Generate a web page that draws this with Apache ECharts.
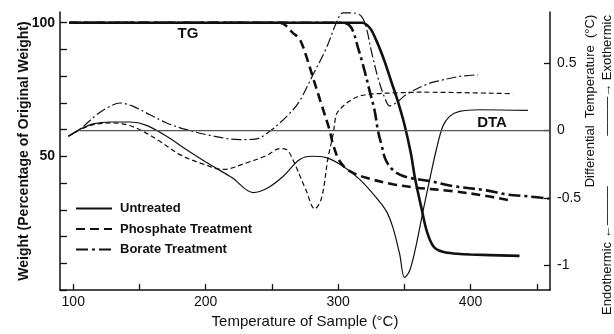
<!DOCTYPE html>
<html>
<head>
<meta charset="utf-8">
<script src="https://cdn.jsdelivr.net/npm/echarts@6/dist/echarts.min.js"></script>
<style>
  html, body { margin: 0; padding: 0; background: #fff; }
  #chart { width: 614px; height: 334px; }
</style>
</head>
<body>
<div id="chart"></div>
<script>
// [temperature °C, weight %]
const untreatedTG = [[97,100],[318,100],[324,98],[329,93.2],[335,85.7],[340,78.2],[345,70.8],[350,62.1],[355,51],[358,42],[363,30.5],[367,22],[372,16.3],[379,14.3],[390,13.6],[400,13.3],[437,12.8]];
const phosphateTG = [[97,100],[256,100],[266,96.1],[271,93.8],[276,87.4],[281,79.5],[287.4,69.5],[293.7,59.6],[296.2,54.5],[301.2,48.2],[308.8,44.5],[321.3,42],[341.4,39.6],[359.1,38.3],[386.7,37],[411.9,35.2],[428.2,33.7]];
const borateTG = [[97,100],[303.7,100],[310,98.1],[315,90.7],[320,82],[323.8,74.5],[327.6,67.1],[330.1,59.6],[332.7,54.5],[336.4,48.2],[344,43.9],[354,42],[369.1,40.8],[386.7,38.9],[411.9,37.3],[426.9,35.8],[444.5,35],[459,34.2]];

// [temperature °C, differential temperature °C]
const untreatedDTA = [[96.3,-0.042],[105,0.01],[115,0.05],[127.7,0.064],[142.8,0.064],[155.4,0.039],[170.5,-0.042],[185.6,-0.141],[203,-0.25],[220,-0.35],[236,-0.46],[246,-0.43],[258.4,-0.34],[271,-0.215],[280,-0.19],[291,-0.2],[303.7,-0.264],[316.3,-0.362],[328.9,-0.498],[336.4,-0.597],[341.4,-0.72],[346.5,-0.917],[350.2,-1.09],[354,-1.04],[359.1,-0.843],[364.1,-0.597],[369.1,-0.366],[374.2,-0.14],[379.1,0.032],[384.2,0.106],[391.7,0.143],[406.8,0.155],[443.3,0.15]];
const phosphateDTA = [[96.3,-0.042],[105,0.005],[115.1,0.044],[130.2,0.057],[140.3,0.044],[150.3,0.007],[165.4,-0.079],[180.5,-0.178],[198.1,-0.248],[213.2,-0.288],[230.8,-0.239],[245.9,-0.185],[256,-0.133],[261,-0.14],[265.8,-0.215],[276.1,-0.45],[282.3,-0.58],[287.4,-0.503],[292.4,-0.202],[296.2,-0.03],[298.7,0.12],[302.5,0.17],[308.8,0.22],[316.3,0.257],[328.9,0.274],[346.5,0.281],[361.6,0.285],[432,0.274]];
const borateDTA = [[96.3,-0.042],[105,0.01],[117.7,0.118],[127.7,0.18],[135.3,0.205],[145.3,0.18],[157.9,0.118],[170.5,0.057],[185.6,0.007],[203.1,-0.035],[225.8,-0.067],[238.4,-0.061],[248.4,-0.005],[256,0.057],[266,0.155],[271,0.22],[281.1,0.416],[291.2,0.614],[298.7,0.8],[303.7,0.873],[311.2,0.873],[317.6,0.848],[321.3,0.762],[325.1,0.59],[330.1,0.392],[335.2,0.244],[338.9,0.183],[344,0.207],[351.5,0.268],[366.6,0.342],[374.2,0.365],[391.7,0.402],[405.5,0.414]];
const baselineDTA = [[105,0],[460,0]];

const xTicks = [100,150,200,250,300,350,400,450];
const xLabels = [100,200,300,400];
const weightTicks = [0,10,20,30,40,50,60,70,80,90,100];
const weightLabels = [50,100];
const dtaTicks = [-1,-0.5,0,0.5];

const legendNames = ['Untreated','Phosphate Treatment','Borate Treatment'];

const ink = '#111';
const font = 'Liberation Sans';

function tg(name, data, type) {
  return {
    name: name, type: 'line', yAxisIndex: 0, data: data,
    smooth: 0.35, symbol: 'none',
    itemStyle: { color: ink },
    lineStyle: { color: ink, width: 2.6, type: type }
  };
}
function dta(name, data, type) {
  return {
    name: name, type: 'line', yAxisIndex: 1, data: data,
    smooth: 0.35, symbol: 'none',
    itemStyle: { color: ink },
    lineStyle: { color: ink, width: 1.2, type: type }
  };
}

const option = {
  animation: false,
  backgroundColor: '#fff',
  textStyle: { fontFamily: font, color: ink },
  grid: { left: 60, right: 64, top: 12, bottom: 43 },
  legend: {
    data: legendNames,
    orient: 'vertical',
    left: 75,
    top: 202,
    padding: 0,
    itemWidth: 36,
    itemHeight: 14,
    itemGap: 7.5,
    itemStyle: { opacity: 0 },
    textStyle: { fontSize: 13, fontWeight: 'bold', color: ink, fontFamily: font, padding: [0, 0, 0, 3] }
  },
  xAxis: {
    type: 'value', min: 90, max: 460,
    name: 'Temperature of Sample (°C)', nameLocation: 'middle', nameGap: 14,
    nameTextStyle: { fontSize: 15, color: ink, fontFamily: font },
    axisLine: { lineStyle: { color: ink, width: 1.5 } },
    axisTick: { inside: true, length: 6, customValues: xTicks, lineStyle: { color: ink, width: 1.3 } },
    axisLabel: { customValues: xLabels, margin: 5, fontSize: 14, color: ink, fontFamily: font },
    splitLine: { show: false }
  },
  yAxis: [
    {
      type: 'value', min: 0, max: 104, position: 'left',
      name: 'Weight (Percentage of Original Weight)', nameLocation: 'middle', nameGap: 29, nameRotate: 90,
      nameMoveOverlap: false,
      nameTextStyle: { fontSize: 14, fontWeight: 'bold', color: ink, fontFamily: font },
      axisLine: { show: true, lineStyle: { color: ink, width: 1.5 } },
      axisTick: { show: true, inside: true, length: 7, customValues: weightTicks, lineStyle: { color: ink, width: 1.3 } },
      axisLabel: { customValues: weightLabels, margin: 5, fontSize: 14, fontWeight: 'bold', color: ink, fontFamily: font },
      splitLine: { show: false }
    },
    {
      type: 'value', min: -1.183, max: 0.88, position: 'right',
      axisLine: { show: true, lineStyle: { color: ink, width: 1.5 } },
      axisTick: { show: true, inside: true, length: 6, customValues: dtaTicks, lineStyle: { color: ink, width: 1.3 } },
      axisLabel: { customValues: dtaTicks, margin: 7, fontSize: 14, color: ink, fontFamily: font },
      splitLine: { show: false }
    }
  ],
  graphic: [
    { type: 'text', x: 188, y: 34, style: { text: 'TG', font: 'bold 15px ' + font, fill: ink, textAlign: 'center', textVerticalAlign: 'middle' } },
    { type: 'text', x: 492, y: 123, style: { text: 'DTA', font: 'bold 15px ' + font, fill: ink, textAlign: 'center', textVerticalAlign: 'middle' } },
    { type: 'text', x: 590, y: 101, rotation: Math.PI / 2, style: { text: 'Differential  Temperature  (°C)', font: '13px ' + font, fill: ink, textAlign: 'center', textVerticalAlign: 'middle' } },
    { type: 'text', x: 607, y: 165, rotation: Math.PI / 2, style: { text: 'Endothermic ←———              ———→ Exothermic', font: '13px ' + font, fill: ink, textAlign: 'center', textVerticalAlign: 'middle' } }
  ],
  series: [
    tg(legendNames[0], untreatedTG, 'solid'),
    tg(legendNames[1], phosphateTG, [9, 5]),
    tg(legendNames[2], borateTG, [12, 4, 3, 4]),
    dta(legendNames[0], untreatedDTA, 'solid'),
    dta(legendNames[1], phosphateDTA, [5, 3]),
    dta(legendNames[2], borateDTA, [10, 3, 2, 3]),
    {
      name: 'baseline', type: 'line', yAxisIndex: 1, data: baselineDTA,
      symbol: 'none', silent: true,
      lineStyle: { color: '#555', width: 1.3 }
    }
  ]
};

const chart = echarts.init(document.getElementById('chart'));
chart.setOption(option);
window.addEventListener('resize', () => {
  chart.resize();
});
</script>
</body>
</html>
